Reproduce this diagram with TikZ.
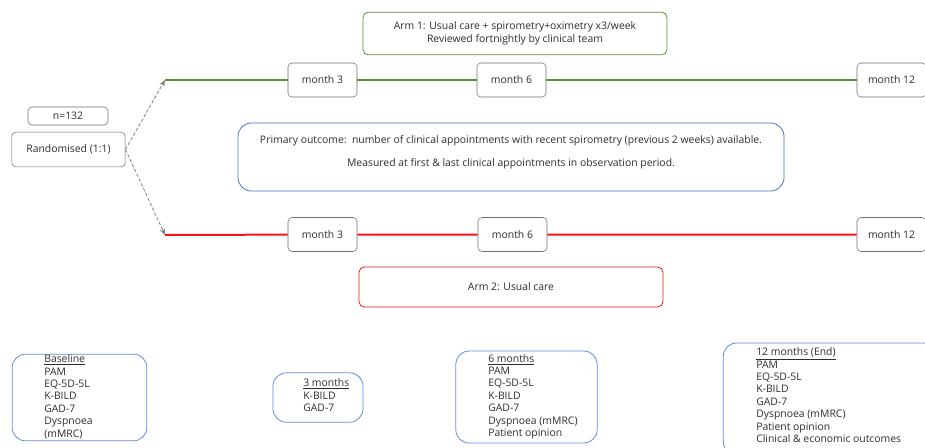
\documentclass[tikz,border=0pt]{standalone}
\usepackage{fontspec}
\setmainfont{Open Sans}
\usetikzlibrary{arrows, arrows.meta}

\definecolor{armgreen}{RGB}{84,148,48}
\definecolor{armred}{RGB}{245,20,20}
\definecolor{boxblue}{RGB}{68,114,196}
\definecolor{listblue}{RGB}{95,140,225}
\definecolor{boxgrey}{RGB}{110,110,110}
\definecolor{txtgrey}{RGB}{45,45,45}

\begin{document}
\begin{tikzpicture}[
            x = 0.75pt, y = -0.75pt, % pixel grid, y runs downwards
            > = {Stealth[length=5pt, width=4pt]}, % arrow head style
            font = \fontsize{7.8}{9.3}\selectfont,
            text = txtgrey
        ]

        \tikzstyle{month}=[
            draw = boxgrey,
            fill = white,
            rounded corners = 3pt,
            minimum width = 51.75pt,
            minimum height = 25.5pt,
            inner sep = 0pt
        ]
        \tikzstyle{arm}=[
            fill = white,
            semithick,
            rounded corners = 4pt,
            align = center,
            minimum width = 228pt,
            inner sep = 0pt
        ]
        \tikzstyle{listbox}=[
            draw = listblue,
            semithick,
            rounded corners = 10pt,
            inner sep = 0pt
        ]
        \tikzstyle{list}=[
            anchor = north west,
            align = left,
            inner sep = 0pt
        ]
        \tikzstyle{split}=[
            ->,
            gray,
            semithick,
            dash pattern = on 2.5pt off 1.5pt
        ]

        \clip (0,0) rectangle (925,447);

        \node[month, minimum width=60pt, minimum height=13.5pt] (n) at (68,116) {n=132};
        \node[month, minimum width=85pt, minimum height=26pt] (rand) at (68.5,149.5) {Randomised (1:1)};

        % arm 1
        \coordinate (g0) at (165,80);
        \node[month] (g3) at (322.5,80) {month 3};
        \node[month] (g6) at (511.5,80) {month 6};
        \node[month] (g12) at (891.5,80) {month 12};
        \draw[armgreen, line width=1.5pt] (g0) -- (g3) (g3) -- (g6) (g6) -- (g12);
        \node[arm, draw=armgreen, minimum height=32pt] (arm1) at (515,33.5)
            {Arm 1: Usual care + spirometry+oximetry x3/week\\[0.4pt]Reviewed fortnightly by clinical team};

        % arm 2
        \coordinate (r0) at (165,235);
        \node[month] (r3) at (322.5,234.5) {month 3};
        \node[month] (r6) at (512.5,234.5) {month 6};
        \node[month] (r12) at (891.5,234.5) {month 12};
        \draw[armred, line width=1.5pt] (r0) -- (r3) (r3) -- (r6) (r6) -- (r12);
        \node[arm, draw=armred, minimum height=30pt] (arm2) at (511,287) {Arm 2: Usual care};

        \draw[split] (rand.east) -- (g0);
        \draw[split] (rand.east) -- (r0);

        % primary outcome
        \node[listbox, draw=boxblue, minimum width=409.5pt, minimum height=51pt] (po) at (511,157) {};
        \node[align=center, inner sep=0pt] (potxt) at (511,152.5)
            {Primary outcome:\ \ number of clinical appointments with recent spirometry (previous 2 weeks) available.\\[8pt]
             Measured at first \& last clinical appointments in observation period.};

        % questionnaires
        \node[listbox, minimum width=101pt, minimum height=65pt] (base) at (79.5,397.5) {};
        \node[list] (basetxt) at (44,354.5)
            {\underline{Baseline}\\PAM\\EQ-5D-5L\\K-BILD\\GAD-7\\Dyspnoea\\(mMRC)};

        \node[listbox, minimum width=67.5pt, minimum height=37pt] (q3) at (318,397.5) {};
        \node[list] (q3txt) at (303,378.5)
            {\underline{3 months}\\K-BILD\\GAD-7};

        \node[listbox, minimum width=106pt, minimum height=69pt] (q6) at (526.5,397) {};
        \node[list] (q6txt) at (488,354)
            {\underline{6 months}\\PAM\\EQ-5D-5L\\K-BILD\\GAD-7\\Dyspnoea (mMRC)\\Patient opinion};

        \node[listbox, minimum width=160pt, minimum height=84pt] (q12) at (830,399) {};
        \node[list] (q12txt) at (756,347.5)
            {\underline{12 months (End)}\\PAM\\EQ-5D-5L\\K-BILD\\GAD-7\\Dyspnoea (mMRC)\\Patient opinion\\Clinical \& economic outcomes};

    \end{tikzpicture}
\end{document}
